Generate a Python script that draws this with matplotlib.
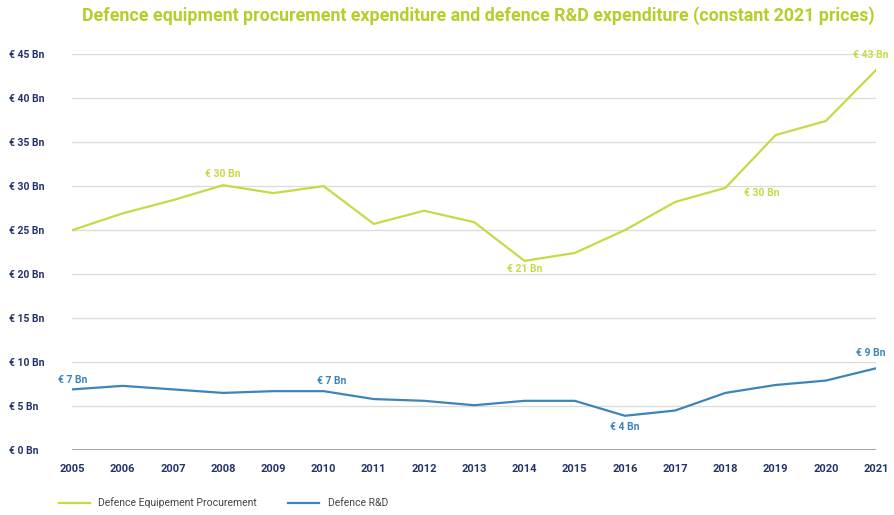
import matplotlib.pyplot as plt

plt.rcParams['font.family'] = ['Roboto', 'DejaVu Sans']

years = list(range(2005, 2022))
procurement = [25.0, 26.9, 28.4, 30.1, 29.2, 30.0, 25.7, 27.2, 25.9, 21.5,
               22.4, 25.0, 28.2, 29.8, 35.8, 37.4, 43.2]
rnd = [6.9, 7.3, 6.9, 6.5, 6.7, 6.7, 5.8, 5.6, 5.1, 5.6,
       5.6, 3.9, 4.5, 6.5, 7.4, 7.9, 9.3]
yticks = [0, 5, 10, 15, 20, 25, 30, 35, 40, 45]

# labelled points: (year, text)
proc_labels = [(2008, '€ 30 Bn'), (2014, '€ 21 Bn'), (2018, '€ 30 Bn'), (2021, '€ 43 Bn')]
rnd_labels = [(2005, '€ 7 Bn'), (2010, '€ 7 Bn'), (2016, '€ 4 Bn'), (2021, '€ 9 Bn')]

green = '#c9d845'
blue = '#3d85b8'
navy = '#26336a'

fig = plt.figure(figsize=(8.94, 5.15), dpi=100)
ax = fig.add_axes([0.081, 0.126, 0.899, 0.769])

for y in yticks:
    ax.axhline(y, color='#9a9a9a' if y == 0 else '#dcdcdc',
               lw=2.0 if y == 0 else 1.0, zorder=0)

ax.plot(years, procurement, color=green, lw=1.6, label='Defence Equipement Procurement')
ax.plot(years, rnd, color=blue, lw=1.6, label='Defence R&D')

ax.set_xlim(2005, 2021)
ax.set_ylim(0, 45)
ax.set_xticks(years)
ax.set_xticklabels([str(y) for y in years], fontsize=8, fontweight='bold', color=navy)
ax.set_yticks(yticks)
ax.set_yticklabels([f'€ {y} Bn' for y in yticks], fontsize=7.5, fontweight='bold',
                   color=navy, ha='left')
ax.tick_params(length=0, pad=10)
ax.tick_params(axis='y', pad=46)
for s in ax.spines.values():
    s.set_visible(False)

offsets = {2005: (0, 7), 2008: (0, 8), 2010: (6, 7), 2014: (0, -6),
           2016: (0, -8), 2018: (26, -4), 2021: (-4, 11)}
for yr, txt in proc_labels:
    v = procurement[years.index(yr)]
    dx, dy = offsets[yr]
    ax.annotate(txt, (yr, v), xytext=(dx, dy), textcoords='offset points',
                ha='center', va='center', fontsize=7.5, fontweight='bold', color=green,
                annotation_clip=False)
for yr, txt in rnd_labels:
    v = rnd[years.index(yr)]
    dx, dy = offsets[yr]
    ax.annotate(txt, (yr, v), xytext=(dx, dy), textcoords='offset points',
                ha='center', va='center', fontsize=7.5, fontweight='bold', color=blue,
                annotation_clip=False)

fig.text(0.535, 0.969, 'Defence equipment procurement expenditure and defence R&D expenditure (constant 2021 prices)',
         ha='center', va='center', fontsize=12.8, fontweight='bold', color='#b8cc2a')

fig.legend(loc='lower left', bbox_to_anchor=(0.055, -0.005), ncol=2, frameon=False,
           fontsize=7.5, handlelength=3, columnspacing=3, labelcolor='#444444')

fig.savefig('out.png', dpi=100)
